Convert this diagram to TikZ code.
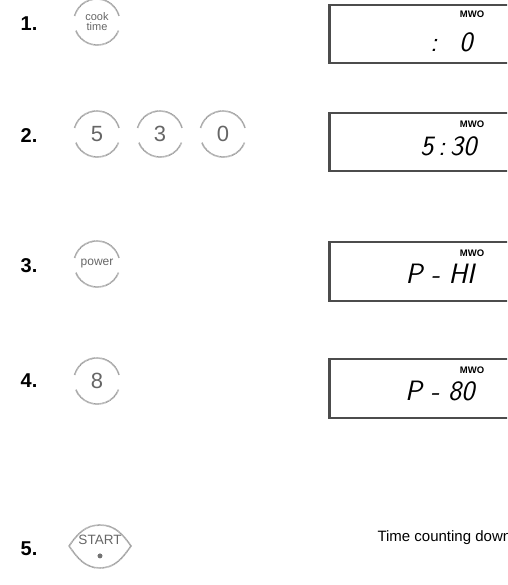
\documentclass[tikz,border=0pt]{standalone}
\usepackage{fontspec}
\setmainfont{Liberation Sans}
\usepackage{tikz}

\tikzset{
	stepnum/.style={font=\bfseries\fontsize{20}{20}\selectfont, anchor=center},
	keyface/.style={circle, minimum size=46pt, inner sep=0pt, text=black!60, font=\fontsize{22}{22}\selectfont},
	keyrim/.style={draw=black!40, line width=1.6pt, dash pattern=on 0.6pt off 0.5pt},
	lcdbox/.style={draw=black!70, line width=1.2pt},
	lcdtext/.style={font=\sffamily\slshape\fontsize{28}{28}\selectfont, anchor=east},
	mwo/.style={font=\bfseries\fontsize{9.5}{9.5}\selectfont}
}
\newcommand{\keyring}[1]{
	\draw[keyrim] (#1.165) arc[start angle=165, end angle=15, radius=23pt];
	\draw[keyrim] (#1.-22) arc[start angle=-22, end angle=-158, radius=23pt];
}

\begin{document}
\begin{tikzpicture}[x=1pt, y=-1pt]
		\useasboundingbox (0, 0) rectangle (507, 585);
		\clip (0, 0) rectangle (507, 585);

		\node[stepnum] (s1) at (29, 24) {1.};
		\node[stepnum] (s2) at (29, 136) {2.};
		\node[stepnum] (s3) at (29, 266) {3.};
		\node[stepnum] (s4) at (29, 381) {4.};
		\node[stepnum] (s5) at (29, 549) {5.};

		\node[keyface, align=center, font=\fontsize{11}{10}\selectfont] (cook) at (97, 22) {cook\\time};
		\keyring{cook}
		\node[keyface] (k5) at (97, 134) {5};
		\keyring{k5}
		\node[keyface] (k3) at (160, 134) {3};
		\keyring{k3}
		\node[keyface] (k0) at (223, 134) {0};
		\keyring{k0}
		\node[keyface, font=\fontsize{12}{12}\selectfont] (power) at (97, 264) {power};
		\keyring{power}
		\node[keyface] (k8) at (97, 381) {8};
		\keyring{k8}

		\node[text=black!60, font=\fontsize{13.5}{13.5}\selectfont] (start) at (100, 540) {START};
		\draw[keyrim] (69, 546) to[out=55, in=180] (100, 525) to[out=0, in=125] (131, 546)
			to[out=-125, in=0] (100, 568) to[out=180, in=-55] (69, 546) -- cycle;
		\coordinate (lock) at (100, 556);
		\draw[black!55, line width=0.7pt] ([xshift=-2pt]lock) arc[start angle=180, end angle=0, radius=2pt];
		\fill[black!55] (lock) circle (2.4pt);

		\draw[lcdbox] (600, 5) -- (329, 5) -- (329, 63) -- (600, 63);
		\draw[black!70, line width=2.4pt] (330, 5) -- (330, 63);
		\node[mwo] (m1) at (472, 14) {MWO};
		\node[lcdtext] (d1) at (476, 42) {:\hspace{22pt}0};

		\draw[lcdbox] (600, 113) -- (329, 113) -- (329, 171) -- (600, 171);
		\draw[black!70, line width=2.4pt] (330, 113) -- (330, 171);
		\node[mwo] (m2) at (472, 124) {MWO};
		\node[lcdtext] (d2) at (480, 146) {5\,:\,30};

		\draw[lcdbox] (600, 242) -- (329, 242) -- (329, 301) -- (600, 301);
		\draw[black!70, line width=2.4pt] (330, 242) -- (330, 301);
		\node[mwo] (m3) at (472, 253) {MWO};
		\node[lcdtext] (d3) at (478, 274) {P - HI};

		\draw[lcdbox] (600, 359) -- (329, 359) -- (329, 418) -- (600, 418);
		\draw[black!70, line width=2.4pt] (330, 359) -- (330, 418);
		\node[mwo] (m4) at (472, 370) {MWO};
		\node[lcdtext] (d4) at (478, 391) {P - 80};

		\node[anchor=west, font=\fontsize{15}{15}\selectfont] (count) at (374, 538) {Time counting down};
	\end{tikzpicture}
\end{document}
